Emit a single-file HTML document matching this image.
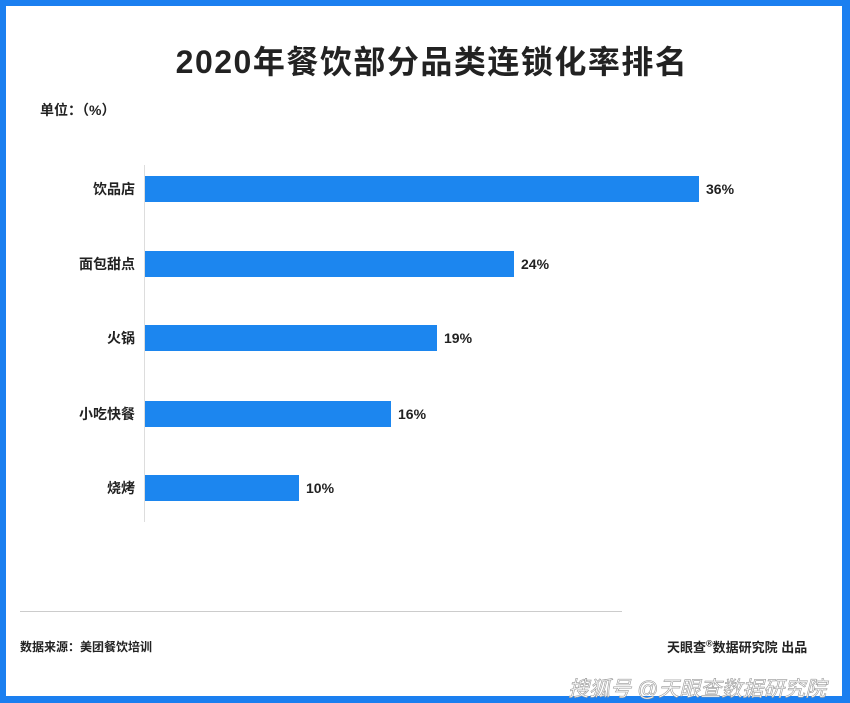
<!DOCTYPE html>
<html><head><meta charset="utf-8"><style>
body{margin:0;width:850px;height:703px;overflow:hidden;background:#fff;font-family:"Liberation Sans","Noto Sans CJK SC",sans-serif;}
#f{position:absolute;left:0;top:0;width:850px;height:703px;box-sizing:border-box;border:solid #1b7ff0;border-width:6px 8px 7px 6px;}
.t{position:absolute;color:#222;white-space:nowrap}
.bar{position:absolute;left:145px;height:26px;background:#1c86ef}
.lab{position:absolute;right:715px;font-size:14px;font-weight:bold;color:#222;line-height:26px}
.val{position:absolute;font-size:14px;font-weight:bold;color:#222;line-height:26px}
</style></head><body>
<div id="f"></div>
<div class="t" style="left:0;width:864px;text-align:center;top:37px;font-size:32px;font-weight:bold;letter-spacing:1.5px">2020年餐饮部分品类连锁化率排名</div>
<div class="t" style="left:40px;top:100px;font-size:14px;font-weight:bold;">单位：（%）</div>
<div style="position:absolute;left:144px;top:165px;width:1px;height:357px;background:#ddd"></div>
<div class="lab" style="top:176px">饮品店</div><div class="bar" style="top:176px;width:554px"></div><div class="val" style="top:176px;left:706px">36%</div>
<div class="lab" style="top:251px">面包甜点</div><div class="bar" style="top:251px;width:369px"></div><div class="val" style="top:251px;left:521px">24%</div>
<div class="lab" style="top:325px">火锅</div><div class="bar" style="top:325px;width:292px"></div><div class="val" style="top:325px;left:444px">19%</div>
<div class="lab" style="top:401px">小吃快餐</div><div class="bar" style="top:401px;width:246px"></div><div class="val" style="top:401px;left:398px">16%</div>
<div class="lab" style="top:475px">烧烤</div><div class="bar" style="top:475px;width:154px"></div><div class="val" style="top:475px;left:306px">10%</div>
<div style="position:absolute;left:20px;top:611px;width:602px;height:1px;background:#ccc"></div>
<div class="t" style="left:20px;top:638px;font-size:12px;font-weight:bold;">数据来源：美团餐饮培训</div>
<div class="t" style="left:667px;top:637px;font-size:13px;font-weight:bold;">天眼查<sup style="font-size:9px">®</sup>数据研究院 出品</div>
<div class="t" style="left:568px;top:673px;font-size:21px;color:#fff;-webkit-text-stroke:0.6px #999;font-style:italic">搜狐号 @天眼查数据研究院</div>
</body></html>
